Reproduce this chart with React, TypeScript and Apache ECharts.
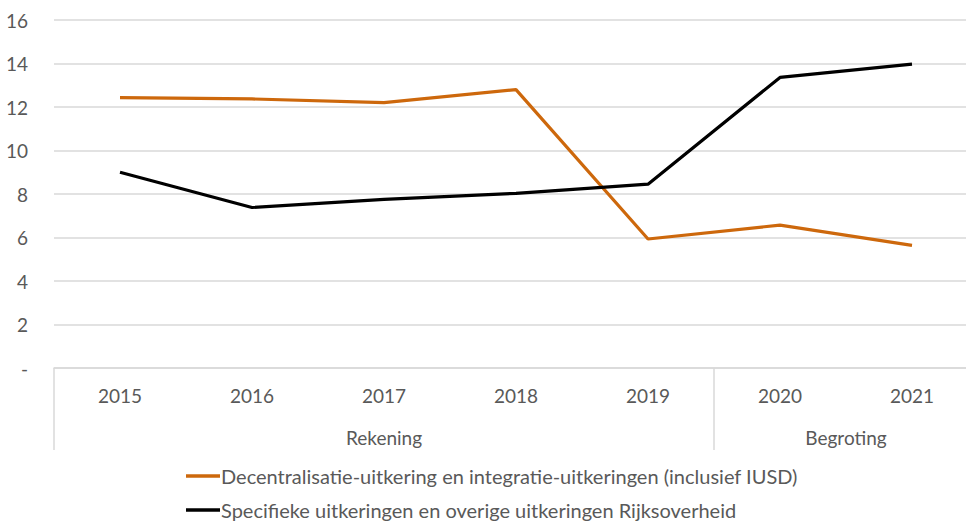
import React, { useEffect, useRef } from "react";
import * as echarts from "echarts";

const years = ["2015", "2016", "2017", "2018", "2019", "2020", "2021"];
const decentralisatie = [12.43, 12.37, 12.2, 12.8, 5.93, 6.57, 5.64];
const specifieke = [9.0, 7.38, 7.75, 8.03, 8.45, 13.36, 13.97];
const seriesNames = [
  "Decentralisatie-uitkering en integratie-uitkeringen (inclusief IUSD)",
  "Specifieke uitkeringen en overige uitkeringen Rijksoverheid",
];
const groups = [
  { label: "Rekening", from: 0, to: 4 },
  { label: "Begroting", from: 5, to: 6 },
];

const FONT = "Lato";
const TEXT = "#595959";
const GRID = "#d9d9d9";
const ORANGE = "#CD680C";

export default function App() {
  const ref = useRef<HTMLDivElement>(null);
  useEffect(() => {
    if (!ref.current) return;
    const chart = echarts.init(ref.current, null, { renderer: "svg" });
    chart.setOption({
      animation: false,
      textStyle: { fontFamily: FONT },
      grid: {
        left: 54,
        width: 924,
        top: 20,
        height: 348,
        containLabel: false,
        outerBoundsMode: "none",
      },
      legend: {
        orient: "vertical",
        left: 186,
        top: 466,
        height: 60,
        padding: 0,
        itemWidth: 34,
        itemHeight: 3.5,
        itemGap: 14,
        icon: "rect",
        textStyle: { fontFamily: FONT, fontSize: 20, color: TEXT, padding: [0, 0, 0, -4] },
        data: seriesNames,
      },
      xAxis: {
        type: "category",
        data: years,
        boundaryGap: true,
        axisLine: { show: true, lineStyle: { color: GRID, width: 1.5 } },
        axisTick: {
          show: true,
          length: 82,
          interval: (i: number) => i === 0 || i === 5,
          lineStyle: { color: GRID, width: 1.5 },
        },
        axisLabel: { color: TEXT, fontSize: 19, margin: 18, fontFamily: FONT },
      },
      yAxis: {
        type: "value",
        min: 0,
        max: 16,
        interval: 2,
        axisLine: { show: false },
        axisTick: { show: false },
        splitLine: { lineStyle: { color: GRID, width: 1.5 } },
        axisLabel: {
          color: TEXT,
          fontSize: 19,
          margin: 26,
          fontFamily: FONT,
          formatter: (v: number) => (v === 0 ? "-" : String(v)),
        },
      },
      series: [
        {
          name: seriesNames[0],
          type: "line",
          data: decentralisatie,
          symbol: "none",
          lineStyle: { color: ORANGE, width: 3.2 },
          itemStyle: { color: ORANGE },
        },
        {
          name: seriesNames[1],
          type: "line",
          data: specifieke,
          symbol: "none",
          lineStyle: { color: "#000000", width: 3.2 },
          itemStyle: { color: "#000000" },
        },
      ],
    });
    const y0 = chart.convertToPixel({ yAxisIndex: 0 }, 0) as number;
    const graphics = groups.map((g) => {
      const a = chart.convertToPixel({ xAxisIndex: 0 }, g.from) as number;
      const b = chart.convertToPixel({ xAxisIndex: 0 }, g.to) as number;
      return {
        type: "text",
        x: (a + b) / 2,
        y: y0 + 69,
        style: {
          text: g.label,
          fill: TEXT,
          font: `19px ${FONT}`,
          align: "center",
          verticalAlign: "middle",
        },
      };
    });
    chart.setOption({ graphic: graphics });
    return () => chart.dispose();
  }, []);
  return <div ref={ref} style={{ width: 966, height: 522, position: "absolute", left: 0, top: 0 }} />;
}
